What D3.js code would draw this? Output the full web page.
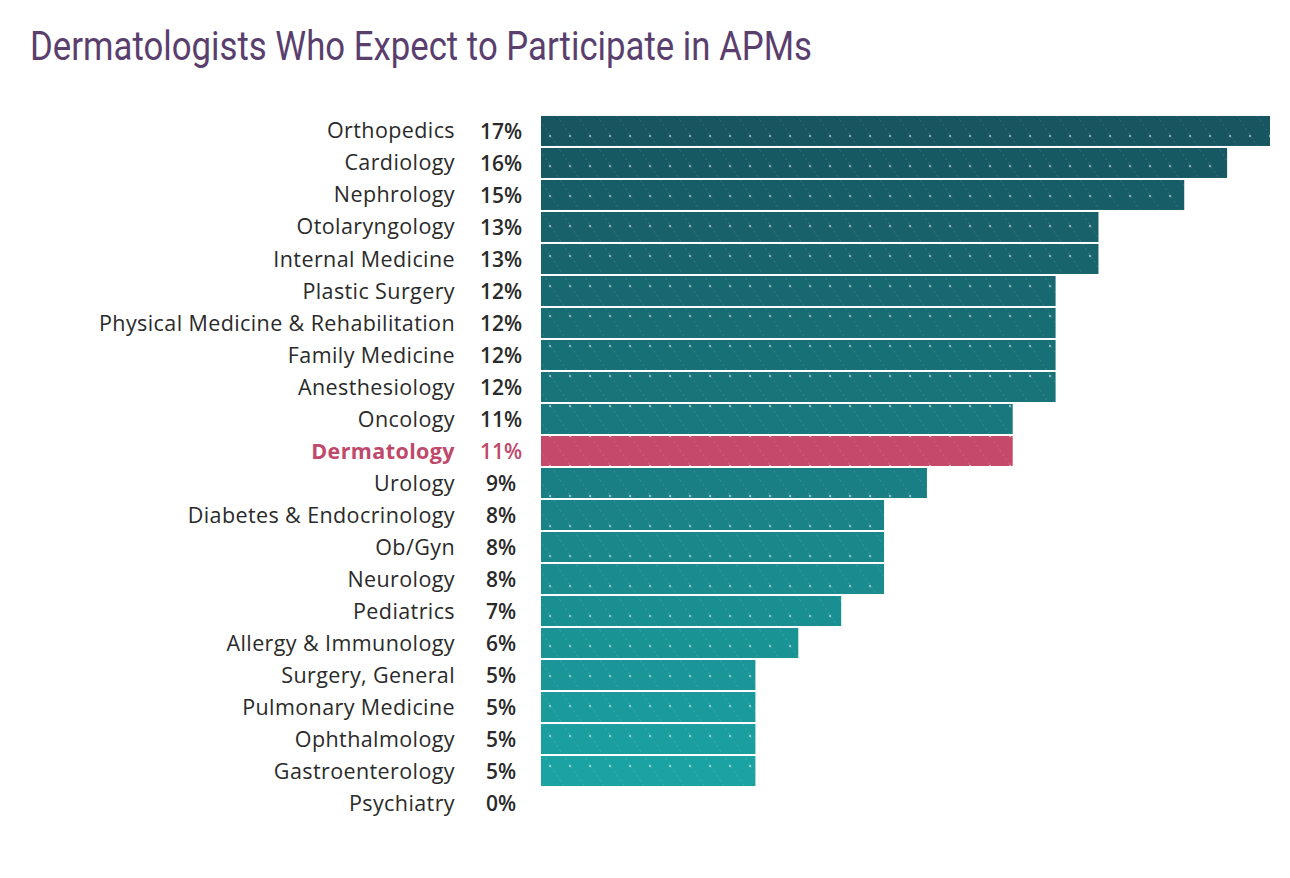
<!DOCTYPE html>
<html>
<head>
<meta charset="utf-8">
<style>
  body { margin: 0; background: #fff; }
</style>
</head>
<body>
<svg id="chart" width="1290" height="878"></svg>
<script src="https://cdn.jsdelivr.net/npm/d3@7"></script>
<script>
  const specialties = ["Orthopedics", "Cardiology", "Nephrology", "Otolaryngology", "Internal Medicine",
    "Plastic Surgery", "Physical Medicine & Rehabilitation", "Family Medicine", "Anesthesiology",
    "Oncology", "Dermatology", "Urology", "Diabetes & Endocrinology", "Ob/Gyn", "Neurology",
    "Pediatrics", "Allergy & Immunology", "Surgery, General", "Pulmonary Medicine",
    "Ophthalmology", "Gastroenterology", "Psychiatry"]
  const percents = [17, 16, 15, 13, 13, 12, 12, 12, 12, 11, 11, 9, 8, 8, 8, 7, 6, 5, 5, 5, 5, 0]
  const highlight = "Dermatology"

  const data = specialties.map((s, i) => ({ name: s, value: percents[i] }))

  let svg = d3.select("#chart")

  // hatch pattern: faint diagonal dashes with a few dots
  let defs = svg.append("defs")
  let pat = defs.append("pattern")
      .attr("id", "hatch")
      .attr("patternUnits", "userSpaceOnUse")
      .attr("width", 20)
      .attr("height", 30)
  pat.append("line")
      .attr("x1", 0).attr("y1", 0).attr("x2", 20).attr("y2", 30)
      .attr("stroke", "rgba(255,255,255,0.13)")
      .attr("stroke-width", 1)
      .attr("stroke-dasharray", "2,3")
  pat.append("circle")
      .attr("cx", 10).attr("cy", 16).attr("r", 1.2)
      .attr("fill", "rgba(255,255,255,0.5)")

  svg.append("text")
      .attr("x", 30)
      .attr("y", 60)
      .attr("font-family", "Roboto")
      .attr("font-size", 41)
      .attr("fill", "#5a3f6e")
      .attr("textLength", 782)
      .attr("lengthAdjust", "spacingAndGlyphs")
      .text("Dermatologists Who Expect to Participate in APMs")

  let y = d3.scaleBand()
      .domain(specialties)
      .range([115, 819])
      .paddingInner(0.0625)
      .paddingOuter(0.03)

  let x = d3.scaleLinear()
      .domain([0, 17])
      .range([541, 1270])

  let color = d3.scaleLinear()
      .domain([0, specialties.length - 2])
      .range(["#175560", "#1ba2a2"])
      .interpolate(d3.interpolateRgb)

  let rows = svg.selectAll("g.row")
      .data(data)
      .enter().append("g")
      .attr("class", "row")

  rows.filter(d => d.value > 0).append("rect")
      .attr("x", x(0))
      .attr("y", d => y(d.name))
      .attr("width", d => x(d.value) - x(0))
      .attr("height", y.bandwidth())
      .attr("fill", d => d.name === highlight ? "#c54a69" : color(specialties.indexOf(d.name)))

  rows.filter(d => d.value > 0).append("rect")
      .attr("x", x(0))
      .attr("y", d => y(d.name))
      .attr("width", d => x(d.value) - x(0))
      .attr("height", y.bandwidth())
      .attr("fill", "url(#hatch)")

  rows.append("text")
      .attr("x", 455)
      .attr("y", d => y(d.name) + y.bandwidth() / 2)
      .attr("dy", "0.35em")
      .attr("text-anchor", "end")
      .attr("font-family", "Open Sans")
      .attr("font-size", 21.5)
      .attr("letter-spacing", 0.4)
      .attr("font-weight", d => d.name === highlight ? 700 : 400)
      .attr("fill", d => d.name === highlight ? "#c0486a" : "#2a2a2a")
      .text(d => d.name)

  rows.append("text")
      .attr("x", 501)
      .attr("y", d => y(d.name) + y.bandwidth() / 2)
      .attr("dy", "0.38em")
      .attr("text-anchor", "middle")
      .attr("font-family", "Open Sans")
      .attr("font-size", 21)
      .attr("font-weight", 600)
      .attr("fill", d => d.name === highlight ? "#c0486a" : "#2a2a2a")
      .text(d => d.value + "%")
</script>
</body>
</html>
